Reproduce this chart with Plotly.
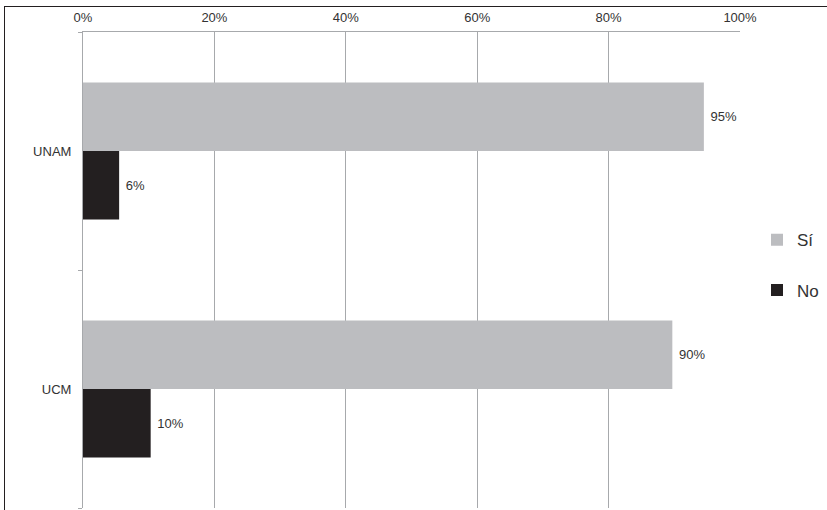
import plotly.graph_objects as go

categories = ["UCM", "UNAM"]
si_values = [89.7, 94.5]
no_values = [10.3, 5.5]
tick_vals = [0, 20, 40, 60, 80, 100]
tick_text = ["0%", "20%", "40%", "60%", "80%", "100%"]

SI_COLOR = "#BCBDC0"
NO_COLOR = "#231F20"
GRID = "#A7A9AC"
TXT = "#333333"
FONT = "Liberation Sans, Arial, sans-serif"


def labels(vals):
    return ["\u00a0" + f"{round(v + 1e-9):.0f}%" for v in vals]


fig = go.Figure()
fig.add_trace(go.Bar(
    y=categories, x=no_values, orientation="h", name="No",
    marker=dict(color=NO_COLOR, line=dict(width=0)),
    text=labels(no_values), textposition="outside",
    textfont=dict(size=13, color=TXT, family=FONT), cliponaxis=False,
    legendgroup="no", legendrank=2, hoverinfo="skip",
))
fig.add_trace(go.Bar(
    y=categories, x=si_values, orientation="h", name="Sí",
    marker=dict(color=SI_COLOR, line=dict(width=0)),
    text=labels(si_values), textposition="outside",
    textfont=dict(size=13, color=TXT, family=FONT), cliponaxis=False,
    legendgroup="si", legendrank=1, hoverinfo="skip",
))

fig.update_layout(
    width=827, height=510,
    margin=dict(l=83, r=87, t=32, b=2, autoexpand=False),
    paper_bgcolor="white", plot_bgcolor="white",
    barmode="group", bargap=0.424, bargroupgap=0,
    font=dict(family=FONT, size=13, color=TXT),
    showlegend=True,
    legend=dict(
        x=(757 - 83) / 657, y=0.51, xanchor="left", yanchor="middle",
        traceorder="grouped", tracegroupgap=25,
        font=dict(size=17, color=TXT, family=FONT),
        bgcolor="rgba(0,0,0,0)",
    ),
    xaxis=dict(
        side="top", range=[0, 100], tickvals=tick_vals, ticktext=tick_text,
        showgrid=True, gridcolor=GRID, gridwidth=1,
        showline=True, linecolor=GRID, linewidth=1,
        ticks="", zeroline=False, tickfont=dict(size=13, color=TXT),
        ticklabelstandoff=4, automargin=False,
    ),
    yaxis=dict(
        type="category", range=[-0.5, 1.5], tickson="boundaries",
        ticks="outside", ticklen=4, tickcolor=GRID,
        showline=True, linecolor=GRID, linewidth=1,
        showgrid=False, tickfont=dict(size=13, color=TXT),
        ticklabelstandoff=8, automargin=False,
    ),
)

frame_js = (
    "document.body.style.margin='0';"
    "var fr=document.createElement('div');"
    "fr.style.cssText='position:absolute;left:4px;top:6px;width:900px;height:600px;"
    "border-left:1.5px solid #231F20;border-top:1.5px solid #231F20;"
    "pointer-events:none;z-index:10;box-sizing:border-box';"
    "document.body.appendChild(fr);"
)

fig.write_html(
    "out.html",
    config={"displayModeBar": False},
    post_script=frame_js,
)
